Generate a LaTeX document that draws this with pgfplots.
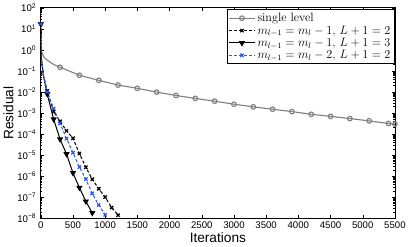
\documentclass[border=0pt]{standalone}
\usepackage{pgfplots}
\pgfplotsset{compat=1.18}
\usepackage{fontspec}
\newfontfamily\hv{Liberation Sans}
\definecolor{lgray}{RGB}{128,128,128}
\definecolor{mblue}{RGB}{45,85,245}
\begin{document}
\begin{tikzpicture}
\begin{axis}[
  width=350pt, height=208pt, scale only axis,
  xmin=0, xmax=5500, ymode=log, ymin=1e-8, ymax=1e2,
  xtick={0,500,...,5500}, scaled x ticks=false,
  /pgf/number format/1000 sep={},
  /pgf/number format/assume math mode=true,
  ytick={1e-8,1e-7,1e-6,1e-5,1e-4,1e-3,1e-2,1e-1,1,1e1,1e2},
  yticklabels={10\textsuperscript{−8},10\textsuperscript{−7},10\textsuperscript{−6},10\textsuperscript{−5},10\textsuperscript{−4},10\textsuperscript{−3},10\textsuperscript{−2},10\textsuperscript{−1},10\textsuperscript{0},10\textsuperscript{1},10\textsuperscript{2}},
  tick align=inside, major tick length=3pt, minor tick length=1.5pt,
  ticklabel style={font=\hv\fontsize{9.5}{10}\selectfont},
  xticklabel style={yshift=-0.5pt},
  yticklabel style={xshift=-1pt},
  xlabel={\hv\fontsize{13.5}{14}\selectfont Iterations},
  ylabel={\hv\fontsize{13.5}{14}\selectfont Residual},
  xlabel style={yshift=3pt},
  ylabel style={yshift=-3pt},
  axis line style={line width=0.6pt},
  every tick/.style={line width=0.4pt, black},
  legend style={at={(0.998,0.992)}, anchor=north east, draw=black, line width=0.6pt,
    font=\fontsize{12}{12.5}\selectfont, row sep=-1.5pt, inner sep=1.5pt},
  legend cell align=left,
  legend image code/.code={\draw[#1, mark indices={2}]
     plot coordinates {(0cm,0cm) (0.45cm,0cm) (0.9cm,0cm)};},
]
\addplot[lgray, line width=1.1pt, mark=o, mark size=2.3pt,
  mark indices={5,6,7,8,9,10,11,12,13,14,15,16,17,18,19,20,21,22,23}] coordinates {
 (0,0.95) (50,0.45) (100,0.32) (200,0.2) (300,0.148) (600,0.0617) (900,0.0355)
 (1200,0.0211) (1500,0.0148) (1800,0.00977) (2100,0.00676) (2400,0.0049)
 (2700,0.00363) (3000,0.0026) (3300,0.00195) (3600,0.0015) (3900,0.00116)
 (4200,8.6e-4) (4500,6.9e-4) (4800,5.4e-4) (5100,4.2e-4) (5400,3.16e-4) (5500,2.95e-4)
};
\addlegendentry{single level}
\addplot[black, line width=1pt, dash pattern=on 3pt off 2pt, mark=x, mark size=2.3pt,
  mark options={solid, line width=1.2pt},
  mark indices={1,4,5,6,7,8,9,10,11,12,13,14,15}] coordinates {
 (0,17) (5,0.5) (40,0.063) (100,0.0112) (200,1.15e-3) (300,4e-4) (400,1.41e-4)
 (500,6.3e-5) (600,1.17e-5) (700,2.6e-6) (800,7.1e-7) (900,2.5e-7) (1000,1e-7)
 (1100,3.2e-8) (1200,1.4e-8)
};
\addlegendentry{$m_{l-1}=m_l-1,\,L+1=2$}
\addplot[black, line width=1pt, mark=triangle*, mark size=2.6pt,
  mark options={rotate=180},
  mark indices={1,4,5,6,7,8,9,10,11}] coordinates {
 (0,17) (5,0.5) (40,0.06) (100,7.9e-3) (200,5e-4) (300,5.6e-5) (400,1.12e-5)
 (500,1.41e-6) (600,2.8e-7) (700,6.3e-8) (800,1.78e-8)
};
\addlegendentry{$m_{l-1}=m_l-1,\,L+1=3$}
\addplot[mblue, line width=1pt, dash pattern=on 3pt off 2pt, mark=x, mark size=2.3pt,
  mark options={solid, line width=1.2pt},
  mark indices={1,4,5,6,7,8,9,10,11,12,13}] coordinates {
 (0,17) (5,0.5) (40,0.063) (100,0.01) (200,1.6e-3) (300,3.2e-4) (400,6e-5)
 (500,1.29e-5) (600,2.7e-6) (700,7.2e-7) (800,1.48e-7) (900,4.2e-8) (1000,1.45e-8)
};
\addlegendentry{$m_{l-1}=m_l-2,\,L+1=2$}
\end{axis}
\end{tikzpicture}
\end{document}
